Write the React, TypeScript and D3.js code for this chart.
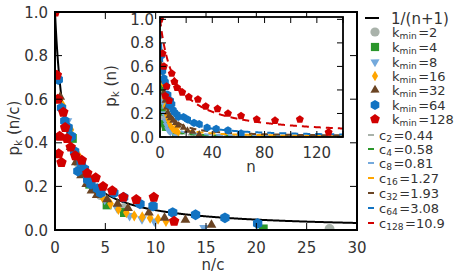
import React from 'react';
import * as d3 from 'd3';

// ---- data ----
const kmins = [2, 4, 8, 16, 32, 64, 128];
const cLabels = ["0.44", "0.58", "0.81", "1.27", "1.93", "3.08", "10.9"];
const cValues = [0.44, 0.58, 0.81, 1.27, 1.93, 3.08, 10.9];
const colors = ["#a9b2aa", "#2a962a", "#74a9dc", "#ffa500", "#6b4423", "#1273c2", "#d10000"];
const shapes = ["circle", "square", "triDown", "thinDiamond", "triUp", "hexagon", "pentagon"];

const n2 = [1, 2, 3, 12];
const p2 = [0.31, 0.16, 0.10, 0.005];
const n4 = [1, 2, 3, 4, 12];
const p4 = [0.42, 0.21, 0.115, 0.08, 0.005];
const n8 = [1, 2, 3, 4, 5, 6, 7, 8, 12];
const p8 = [0.5, 0.3, 0.2, 0.14, 0.1, 0.065, 0.05, 0.04, 0.01];
const n16 = [1, 2, 3, 4, 5, 6, 7, 8, 9, 10, 11, 12, 13, 14];
const p16 = [0.57, 0.46, 0.34, 0.26, 0.19, 0.15, 0.12, 0.095, 0.08, 0.065, 0.06, 0.055, 0.05, 0.04];
const n32 = [1, 2, 3, 4, 5, 6, 7, 8, 10, 12, 14, 18, 21, 25, 30];
const p32 = [0.61, 0.48, 0.38, 0.31, 0.25, 0.21, 0.18, 0.16, 0.14, 0.12, 0.10, 0.08, 0.055, 0.046, 0.023];
const n64 = [1, 2, 3, 4, 5, 6, 7, 8, 9, 10, 11, 13, 14, 18, 21, 26, 30, 36, 43, 52, 62];
const p64 = [0.69, 0.56, 0.5, 0.47, 0.43, 0.36, 0.27, 0.31, 0.28, 0.23, 0.21, 0.19, 0.17, 0.17, 0.15, 0.12, 0.11, 0.08, 0.07, 0.056, 0.03];
const n128 = [0, 2, 3, 4, 5, 7, 9, 11, 13, 17, 22, 29, 35, 44, 52, 62, 74, 88, 107, 129];
const p128 = [1.0, 0.71, 0.60, 0.35, 0.43, 0.31, 0.54, 0.47, 0.42, 0.38, 0.34, 0.32, 0.26, 0.24, 0.20, 0.18, 0.15, 0.14, 0.15, 0.04];

const seriesN = [n2, n4, n8, n16, n32, n64, n128];
const seriesP = [p2, p4, p8, p16, p32, p64, p128];

const mainXTicks = [0, 5, 10, 15, 20, 25, 30];
const mainYTicks = [0, 0.2, 0.4, 0.6, 0.8, 1.0];
const insetXTicks = [0, 20, 40, 60, 80, 100, 120, 140];
const insetXLabels = [0, 40, 80, 120];
const insetYTicks = [0, 0.2, 0.4, 0.6, 0.8, 1.0];

// ---- layout ----
const W = 458, H = 275;
const FONT = "DejaVu Sans, sans-serif";
const TXT = "#333";

function poly(sides: number, r: number, rot: number) {
  const pts: [number, number][] = [];
  for (let i = 0; i < sides; i++) {
    const a = rot + (i * 2 * Math.PI) / sides;
    pts.push([r * Math.sin(a), -r * Math.cos(a)]);
  }
  return "M" + pts.map(p => p[0].toFixed(2) + "," + p[1].toFixed(2)).join("L") + "Z";
}

function shapePath(s: string, r: number) {
  switch (s) {
    case "circle": return d3.symbol().type(d3.symbolCircle).size(Math.PI * r * r * 0.85)()!;
    case "square": { const h = r * 0.82; return `M${-h},${-h}L${h},${-h}L${h},${h}L${-h},${h}Z`; }
    case "triDown": return poly(3, r * 1.05, Math.PI);
    case "triUp": return poly(3, r * 1.05, 0);
    case "thinDiamond": { const a = r * 1.05, b = r * 0.62; return `M0,${-a}L${b},0L0,${a}L${-b},0Z`; }
    case "hexagon": return poly(6, r, 0);
    case "pentagon": return poly(5, r * 1.02, 0);
  }
  return "";
}

function Sub({ base, sub, rest, fs, gap = 0 }: { base: string; sub: string; rest: string; fs: number; gap?: number }) {
  return (
    <>
      <tspan>{base}</tspan>
      <tspan fontSize={fs * 0.7} dy={fs * 0.22}>{sub}</tspan>
      <tspan dy={-fs * 0.22} dx={gap}>{rest}</tspan>
    </>
  );
}

export default function App() {
  // main axes
  const x = d3.scaleLinear().domain([0, 30]).range([55, 357]);
  const y = d3.scaleLinear().domain([0, 1]).range([230, 12]);
  // inset axes
  const xi = d3.scaleLinear().domain([0, 140]).range([160, 343]);
  const yi = d3.scaleLinear().domain([0, 1.02]).range([137, 17]);

  const curve = d3.range(0, 30.001, 0.05);
  const mainLine = d3.line<number>().x(d => x(d)).y(d => y(1 / (d + 1)))(curve)!;
  const nCurve = d3.range(0, 140.001, 0.25);

  const tl = 7;
  const rMain = 5.4, rInset = 4.1, rLeg = 5;

  const legRows = [18, 32, 47, 62, 76, 90, 105, 119];
  const legRows2 = [135, 149, 163, 178, 193, 208, 223];
  const LFS = 13;

  return (
    <svg width={W} height={H} style={{ position: "absolute", left: 0, top: 0, background: "#fff" }}
      fontFamily={FONT}>
      <defs>
        <clipPath id="mainClip"><rect x={55} y={12} width={302} height={218} /></clipPath>
        <clipPath id="insetClip"><rect x={160} y={17} width={183} height={120} /></clipPath>
      </defs>
      <rect x={0} y={0} width={W} height={H} fill="#fff" />

      {/* main plot content */}
      <g clipPath="url(#mainClip)">
        <path d={mainLine} fill="none" stroke="#000" strokeWidth={2} />
        {seriesN.map((ns, si) => (
          <g key={si} fill={colors[si]}>
            {ns.map((n, i) => (
              <path key={i} d={shapePath(shapes[si], rMain)}
                transform={`translate(${x(n / cValues[si])},${y(seriesP[si][i])})`} />
            ))}
          </g>
        ))}
      </g>

      {/* main ticks */}
      <g stroke="#000" strokeWidth={1}>
        {mainXTicks.map(t => (
          <g key={t}>
            <line x1={x(t)} x2={x(t)} y1={230} y2={230 - tl} />
            <line x1={x(t)} x2={x(t)} y1={12} y2={12 + tl} />
          </g>
        ))}
        {mainYTicks.map(t => (
          <g key={t}>
            <line x1={55} x2={55 + tl} y1={y(t)} y2={y(t)} />
            <line x1={357} x2={357 - tl} y1={y(t)} y2={y(t)} />
          </g>
        ))}
      </g>
      <rect x={55} y={12} width={302} height={218} fill="none" stroke="#000" strokeWidth={2} />
      <g fill={TXT} fontSize={15}>
        {mainXTicks.map(t => (
          <text key={t} x={x(t)} y={253} textAnchor="middle">{t}</text>
        ))}
        {mainYTicks.map(t => (
          <text key={t} x={48} y={y(t) + 5.5} textAnchor="end">{t.toFixed(1)}</text>
        ))}
        <text x={213} y={270} textAnchor="middle">n/c</text>
        <text transform={`translate(19,128) rotate(-90)`} textAnchor="middle">
          <Sub base="p" sub="k" rest=" (n/c)" fs={15} />
        </text>
      </g>

      {/* inset */}
      <rect x={160} y={17} width={183} height={120} fill="#fff" />
      <g clipPath="url(#insetClip)">
        {cValues.map((c, si) => (
          <path key={si}
            d={d3.line<number>().x(d => xi(d)).y(d => yi(1 / (d / c + 1)))(nCurve)!}
            fill="none" stroke={colors[si]} strokeWidth={2} strokeDasharray="7,5" />
        ))}
        {seriesN.map((ns, si) => (
          <g key={si} fill={colors[si]}>
            {ns.map((n, i) => (
              <path key={i} d={shapePath(shapes[si], rInset)}
                transform={`translate(${xi(n)},${yi(seriesP[si][i])})`} />
            ))}
          </g>
        ))}
      </g>
      <g stroke="#000" strokeWidth={1}>
        {insetXTicks.map(t => (
          <g key={t}>
            <line x1={xi(t)} x2={xi(t)} y1={137} y2={137 - 6} />
            <line x1={xi(t)} x2={xi(t)} y1={17} y2={17 + 6} />
          </g>
        ))}
        {insetYTicks.map(t => (
          <g key={t}>
            <line x1={160} x2={166} y1={yi(t)} y2={yi(t)} />
            <line x1={343} x2={337} y1={yi(t)} y2={yi(t)} />
          </g>
        ))}
      </g>
      <rect x={160} y={17} width={183} height={120} fill="none" stroke="#000" strokeWidth={1.8} />
      <g fill={TXT} fontSize={15}>
        {insetXLabels.map(t => (
          <text key={t} x={xi(t)} y={158} textAnchor="middle">{t}</text>
        ))}
        {insetYTicks.map(t => (
          <text key={t} x={154} y={yi(t) + 5.5} textAnchor="end">{t.toFixed(1)}</text>
        ))}
        <text x={251} y={172} textAnchor="middle">n</text>
        <text transform={`translate(116,86) rotate(-90)`} textAnchor="middle">
          <Sub base="p" sub="k" rest=" (n)" fs={15} />
        </text>
      </g>

      {/* legend */}
      <g fill={TXT}>
        <line x1={365} x2={379} y1={legRows[0]} y2={legRows[0]} stroke="#000" strokeWidth={2} />
        <text x={391} y={legRows[0] + 5.5} fontSize={15}>1/(n+1)</text>
        {kmins.map((k, si) => (
          <g key={k}>
            <path d={shapePath(shapes[si], rLeg)} fill={colors[si]}
              transform={`translate(375,${legRows[si + 1]})`} />
            <text x={392} y={legRows[si + 1] + 4.5} fontSize={LFS}>
              <Sub base="k" sub="min" rest={"=" + k} fs={LFS} gap={1.5} />
            </text>
          </g>
        ))}
        {cLabels.map((cl, si) => (
          <g key={cl}>
            <line x1={368} x2={374} y1={legRows2[si]} y2={legRows2[si]} stroke={colors[si]} strokeWidth={2} />
            <text x={379} y={legRows2[si] + 4.5} fontSize={LFS}>
              <Sub base="c" sub={String(kmins[si])} rest={"=" + cl} fs={LFS} gap={1.5} />
            </text>
          </g>
        ))}
      </g>
    </svg>
  );
}
